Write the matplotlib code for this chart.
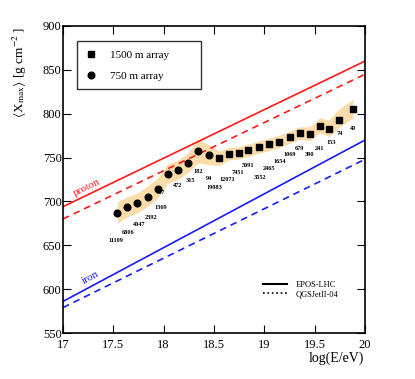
import numpy as np
import matplotlib
matplotlib.use('Agg')
import matplotlib.pyplot as plt
from matplotlib.lines import Line2D

plt.rcParams['font.family'] = ['Liberation Serif', 'DejaVu Serif']
plt.rcParams['mathtext.fontset'] = 'stix'

# данные: 750 m array (кружки)
lgE_750 = [17.54, 17.64, 17.74, 17.84, 17.94, 18.04, 18.14, 18.24, 18.34, 18.45]
xmax_750 = [686.4, 693.3, 697.8, 705.4, 714.5, 731.6, 736.1, 743.8, 757.1, 752.6]
n_750 = ['11109', '6806', '4047', '2392', '1369', '767', '472', '315', '182', '94']

# данные: 1500 m array (квадраты)
lgE_1500 = [18.55, 18.65, 18.75, 18.84, 18.95, 19.05, 19.15, 19.25, 19.35, 19.45,
            19.55, 19.64, 19.74, 19.88]
xmax_1500 = [749.2, 754.4, 755.5, 758.3, 762.0, 765.1, 768.3, 773.1, 778.0, 777.2,
             786.3, 782.9, 793.2, 805.4]
n_1500 = ['19083', '12071', '7451', '5091', '3552', '2465', '1654', '1069', '679',
          '390', '241', '153', '74', '49']

# систематика (верх / низ)
sys_up = [13, 12, 12, 12, 12, 11, 11, 11, 14, 12,
          8, 7, 7, 7, 7, 7, 7, 7, 7, 8, 9, 10, 12, 11]
sys_lo = [11, 11, 11, 11, 11, 11, 11, 11, 13, 11,
          8, 7, 7, 7, 7, 7, 7, 7, 7, 8, 8, 9, 9, 10]

# модели: значения при lgE = 17 и 20
model_lgE = [17, 20]
p_epos = [694, 860]
p_qgs = [680, 845]
fe_epos = [586, 770]
fe_qgs = [579, 748]

# смещения подписей (пиксели, dx, dy вниз)
label_off = [(-1, 27), (1, 25), (2, 21), (4, 21), (3, 19), (-7, 19), (0, 16), (3, 17),
             (0, 20), (0, 23), (-5, 29), (-2, 26), (-1, 20), (0, 15), (1, 30), (0, 24),
             (0, 20), (0, 17), (0, 15), (0, 21), (0, 23), (2, 14), (1, 14), (0, 20)]

fig = plt.figure(figsize=(4.15, 3.79), dpi=100)
ax = fig.add_axes([63 / 415, 1 - 333 / 379, 302 / 415, 307 / 379])

x_all = np.array(lgE_750 + lgE_1500)
y_all = np.array(xmax_750 + xmax_1500)
ax.fill_between(x_all, y_all - np.array(sys_lo), y_all + np.array(sys_up),
                color='#fcdcaa', lw=0, zorder=1)

ax.plot(model_lgE, p_epos, color='#ff1a1a', lw=1.2, zorder=2)
ax.plot(model_lgE, p_qgs, color='#ff1a1a', lw=1.2, ls=(0, (4, 3)), zorder=2)
ax.plot(model_lgE, fe_epos, color='#1a1aff', lw=1.2, zorder=2)
ax.plot(model_lgE, fe_qgs, color='#1a1aff', lw=1.2, ls=(0, (4, 3)), zorder=2)

ax.plot(lgE_1500, xmax_1500, 's', color='black', ms=4.3, zorder=3)
ax.plot(lgE_750, xmax_750, 'o', color='black', ms=4.8, zorder=3)

names = n_750 + n_1500
for i, (xv, yv) in enumerate(zip(x_all, y_all)):
    dx, dy = label_off[i]
    ax.annotate(names[i], (xv, yv), xytext=(dx * 0.72, -dy * 0.72),
                textcoords='offset points', ha='center', va='center',
                fontsize=4.5, fontweight='bold')

ax.text(17.24, 716, 'proton', color='#ff1a1a', fontsize=8, rotation=26,
        ha='center', va='center')
ax.text(17.27, 613, 'iron', color='#1a1aff', fontsize=8, rotation=28,
        ha='center', va='center')

ax.set_xlim(17, 20)
ax.set_ylim(550, 900)
ax.set_xticks([17, 17.5, 18, 18.5, 19, 19.5, 20])
ax.set_xticklabels(['17', '17.5', '18', '18.5', '19', '19.5', '20'])
ax.set_yticks([550, 600, 650, 700, 750, 800, 850, 900])
ax.tick_params(direction='in', length=6, width=0.8, top=True, right=True,
               labelsize=9)
ax.tick_params(axis='x', pad=4.5)
ax.tick_params(axis='y', pad=1)
for s in ax.spines.values():
    s.set_linewidth(1.2)

fig.text(336 / 415, 1 - 358 / 379, 'log(E/eV)', fontsize=10, ha='center', va='center')
fig.text(20 / 415, 1 - 72 / 379, r'$\langle$X$_{\rm max}\rangle$ [g cm$^{-2}$ ]',
         fontsize=9.5, rotation=90, ha='center', va='center')

# легенда 1
h1 = [Line2D([], [], marker='s', ls='none', color='black', ms=4.3),
      Line2D([], [], marker='o', ls='none', color='black', ms=4.8)]
leg1 = ax.legend(h1, ['1500 m array', '750 m array'], loc='upper left',
                 bbox_to_anchor=(0.046, 0.795, 0.411, 0.156), mode='expand',
                 fontsize=8, frameon=True, fancybox=False, edgecolor='black',
                 borderpad=0.8, labelspacing=1.0, handletextpad=1.2,
                 borderaxespad=0, handlelength=1.0)
leg1.get_frame().set_linewidth(1.0)
ax.add_artist(leg1)

# легенда 2
h2 = [Line2D([], [], color='black', lw=1.5),
      Line2D([], [], color='black', lw=1.2, ls=':')]
ax.legend(h2, ['EPOS-LHC', 'QGSJetII-04'], loc='upper left',
          bbox_to_anchor=(0.662, 0.169), fontsize=6, frameon=False,
          handlelength=2.9, handletextpad=1.0, labelspacing=0.15,
          borderpad=0, borderaxespad=0)

fig.savefig('out.png', dpi=100)
